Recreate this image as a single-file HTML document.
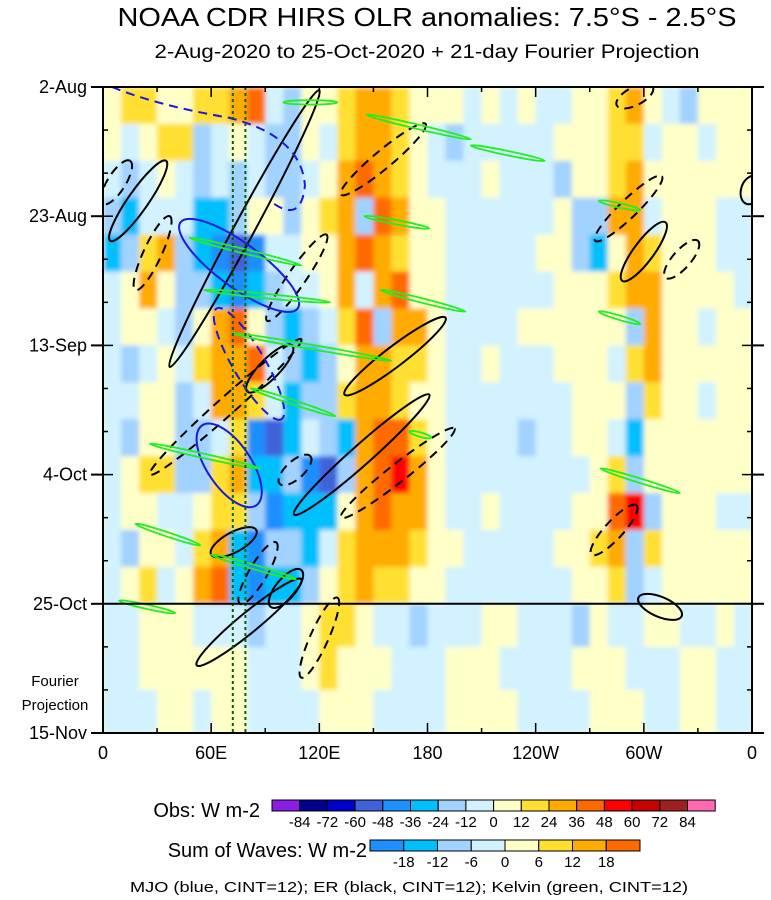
<!DOCTYPE html>
<html><head><meta charset="utf-8">
<style>
body{margin:0;background:#fff;}
svg{display:block;font-family:"Liberation Sans",sans-serif;}
</style></head>
<body>
<svg id="chart" width="771" height="900" viewBox="0 0 771 900">
<defs>
<clipPath id="pc"><rect x="103" y="87" width="649" height="646"/></clipPath>
<filter id="bl" filterUnits="userSpaceOnUse" x="90" y="75" width="680" height="670"><feGaussianBlur stdDeviation="2.5"/></filter>
</defs>
<text x="427" y="26" text-anchor="middle" font-size="26" textLength="619" lengthAdjust="spacingAndGlyphs">NOAA CDR HIRS OLR anomalies: 7.5°S - 2.5°S</text>
<text x="427" y="58" text-anchor="middle" font-size="19" textLength="545" lengthAdjust="spacingAndGlyphs">2-Aug-2020 to 25-Oct-2020 + 21-day Fourier Projection</text>
<g id="heat" clip-path="url(#pc)"></g>
<g id="waves" clip-path="url(#pc)"></g>
<g id="axes"></g>
<g id="legend"></g>
<text x="409" y="892" text-anchor="middle" font-size="15" textLength="558" lengthAdjust="spacingAndGlyphs">MJO (blue, CINT=12); ER (black, CINT=12); Kelvin (green, CINT=12)</text>
<text x="55" y="686" text-anchor="middle" font-size="15">Fourier</text>
<text x="55" y="710" text-anchor="middle" font-size="15">Projection</text>
</svg>
<script>
// ---------- data ----------
const obsRows = [
[5,15,20,5,10,15,20,25,40,-10,-20,5,10,20,30,25,15,10,5,5,-5,5,-5,5,-5,-5,5,10,20,25,10,-10,-15,5,5,5],
[10,-10,10,20,15,-15,-10,10,-10,-15,-20,5,-5,15,25,30,20,10,-10,-20,-10,-5,-5,-5,-5,10,10,5,15,20,-10,5,5,-5,5,5],
[-10,-20,-10,5,-5,-15,-10,-20,-10,-15,-15,-10,5,25,40,30,15,10,-5,-5,-5,5,-5,-5,-10,-20,5,5,20,30,10,5,5,5,10,5],
[-20,-30,-10,-5,-10,-30,-25,-20,5,10,-20,5,15,30,-20,40,25,10,5,-5,-5,-5,-5,-5,-10,5,-15,-20,25,30,-10,5,5,5,-5,-5],
[-30,-20,15,30,-20,-30,-40,-60,-40,-10,-10,5,10,35,40,30,20,5,5,-5,-5,-10,-5,-5,5,5,-20,-30,10,30,20,5,5,5,-5,-5],
[-10,5,30,5,-15,-20,-30,-40,-30,-20,-10,-10,5,30,-10,35,40,10,5,-5,-5,-5,-5,-5,-5,5,5,5,15,30,25,5,5,5,5,-5],
[-5,5,10,-5,-20,10,30,40,10,-20,-30,-20,-10,20,40,-20,30,30,5,-5,-5,-5,-5,5,5,5,5,5,10,-20,30,5,5,-5,5,5],
[-10,-20,-5,5,-10,20,30,30,40,-10,-20,-30,-20,10,30,30,20,15,5,-5,-5,5,-5,-5,-5,5,5,5,-10,20,30,5,5,5,5,5],
[-10,-10,5,10,-20,-10,30,30,20,-10,-30,-20,-20,15,35,30,20,10,5,-5,-5,-5,-5,-5,-5,-5,5,5,10,-20,20,5,5,-5,5,5],
[-10,-20,5,10,-20,-20,-10,20,-40,-60,-30,-10,-20,-30,30,40,40,20,5,-5,-5,-5,-5,-20,-10,-5,5,5,-10,-30,10,5,5,5,5,5],
[-5,5,20,15,-20,-20,15,30,-30,-30,-20,-40,-60,-20,30,45,50,30,10,-5,-5,-5,-10,-5,-5,-5,-5,5,20,-20,10,5,5,5,5,5],
[-10,5,10,-10,-5,10,20,20,-20,-40,-30,-30,-30,10,30,40,30,25,5,-5,-5,5,-5,-5,-5,-5,5,10,40,50,-20,5,5,5,-5,-5],
[-5,-20,10,5,-10,20,30,-30,-40,-20,-20,-30,-10,20,30,30,25,15,5,5,-5,-5,-5,-5,-5,5,5,20,25,-20,20,5,5,5,5,5],
[-10,5,15,-10,5,30,40,-30,-40,-30,-30,-20,10,20,30,20,20,10,5,-5,-10,-5,-5,-5,-5,-5,5,10,20,-20,-10,5,5,5,5,5]
];
const projRows = [
[-5,-5,5,5,5,-5,-5,-5,-8,-5,-5,5,10,10,5,-5,-5,-8,-5,-5,-5,5,5,-5,-5,-5,-8,5,-5,-5,5,5,-5,-5,5,-5],
[-5,-5,5,5,5,5,5,5,-5,-5,-5,5,10,5,5,5,-5,-5,-5,5,5,5,-5,-5,-5,-5,5,5,5,-5,-5,-5,5,5,-5,-5],
[-5,-5,-5,5,5,-5,5,5,-5,-5,-5,-5,5,5,5,-5,-5,-5,-5,5,5,5,5,-5,-5,-5,-5,5,5,5,-5,-5,5,5,-5,-5]
];
const obsLevels = [-84,-72,-60,-48,-36,-24,-12,0,12,24,36,48,60,72,84];
const obsColors = ["#8a1ee8","#00008f","#0000cd","#3f62d9","#1e8fff","#00bfff","#a2d2ff","#d2f2ff","#ffffc8","#ffe030","#ffab00","#ff6a00","#ff0000","#c80000","#a02020","#ff69b4"];
const waveLevels = [-18,-12,-6,0,6,12,18];
const waveColors = ["#1e8fff","#00bfff","#a2d2ff","#d2f2ff","#ffffc8","#ffe030","#ffab00","#ff6a00"];
const dateLabels = ["2-Aug","23-Aug","13-Sep","4-Oct","25-Oct","15-Nov"];
const dateDays = [0,21,42,63,84,105];
const lonLabels = ["0","60E","120E","180","120W","60W","0"];
const lonTicks = [0,60,120,180,240,300,360];
// wave contours: [lon1, day1, lon2, day2]
const erSolid = [[4,25,35,12],[37,45.5,120,0.5],[134,50,190,37.5],[106,69.5,181,50],[80,49.5,105,42],[60,76,85,72],[93,84.5,110,78.5],[52,94,110,80],[288,31.5,312,22],[321,86,297,83],[357,19,362,14.5]];
const erDashed = [[18,33,37,21],[91,38,124,24],[132,17.5,179,6],[26,63,110,41],[98,64.5,115,60],[132,70,195,55.5],[76,84,96,74],[110,96,130,83],[273,25,310,14.5],[312,31,330,25],[271,76,296,68],[285,3,305,0],[0,19,15,12]];
const mjoSolid = [[43,22,108,36],[55,55,85,68]];
const mjoDashed = [[63,36,99,54]];
// kelvin: [lon1, day1, lon2, day2]
const kelvin = [[146,4.5,204,8.5],[204,9.5,245,12],[100,2.5,130,2.5],[48,24.5,110,29],[56,33,126,35],[71,40,160,44.5],[82,49,129,53.5],[26,58,87,62],[154,33,201,36.5],[145,21,181,23],[275,18.5,298,20],[275,36.5,298,38.5],[276,62,320,66],[18,71,54,74.5],[60,76,107,80],[9,83.5,40,85.5],[170,56,182,57]];
const verticals = [72,79];

// ---------- helpers ----------
const NS="http://www.w3.org/2000/svg";
const X0=103,X1=752,Y0=87,Y1=733;
const xS = lon => X0 + lon*(X1-X0)/360;
const yS = day => Y0 + day*(Y1-Y0)/105;
function mk(tag, attrs, parent){const e=document.createElementNS(NS,tag);for(const k in attrs)e.setAttribute(k,attrs[k]);parent.appendChild(e);return e;}
function colorFor(v, levels, colors){let i=0;while(i<levels.length && v>=levels[i])i++;return colors[i];}

// ---------- heatmap ----------
const heat=document.getElementById('heat');
const hb=mk('g',{filter:'url(#bl)'},heat);
mk('rect',{x:X0-10,y:Y0-10,width:X1-X0+20,height:Y1-Y0+20,fill:'#ffffc8'},hb);
const dLon=360/obsRows[0].length;
obsRows.forEach((row,r)=>{row.forEach((v,c)=>{
  const e=mk('rect',{x:xS(c*dLon),y:yS(r*6),width:xS(dLon)-X0+0.6,height:yS(6)-Y0+0.6,fill:colorFor(v,obsLevels,obsColors)},hb);
  
  
});});
projRows.forEach((row,r)=>{row.forEach((v,c)=>{
  const e=mk('rect',{x:xS(c*dLon),y:yS(84+r*7),width:xS(dLon)-X0+0.6,height:yS(7)-Y0+0.6,fill:colorFor(v,waveLevels,waveColors)},hb);
  
  
});});

// ---------- contours ----------
const wv=document.getElementById('waves');
function ell(p,stroke,dash,w,name){
  const x1=xS(p[0]),y1=yS(p[1]),x2=xS(p[2]),y2=yS(p[3]);
  const cx=(x1+x2)/2,cy=(y1+y2)/2,len=Math.hypot(x2-x1,y2-y1)/2;
  const ang=Math.atan2(y2-y1,x2-x1)*180/Math.PI;
  const e=mk('ellipse',{cx:cx,cy:cy,rx:len,ry:w,transform:`rotate(${ang} ${cx} ${cy})`,fill:'none',stroke:stroke,'stroke-width':2,'stroke-dasharray':dash},wv);
  
  
}
erSolid.forEach(p=>ell(p,'#000','none',10,'er-contour-positive'));
erDashed.forEach(p=>ell(p,'#000','9,6',9,'er-contour-negative'));
mjoSolid.forEach(p=>ell(p,'#1a1adc','none',22,'mjo-contour-positive'));
mjoDashed.forEach(p=>ell(p,'#1a1adc','9,6',16,'mjo-contour-negative'));
const mjoArc=mk('path',{d:`M${xS(5)},${yS(0)} Q${xS(30)},${yS(3)} ${xS(70)},${yS(5)} Q${xS(110)},${yS(8)} ${xS(112)},${yS(16)} Q${xS(110)},${yS(22)} ${xS(95)},${yS(19)}`,fill:'none',stroke:'#1a1adc','stroke-width':2,'stroke-dasharray':'9,6'},wv);


kelvin.forEach(p=>{
  const cx=(xS(p[0])+xS(p[2]))/2,cy=(yS(p[1])+yS(p[3]))/2;
  const len=Math.hypot(xS(p[2])-xS(p[0]),yS(p[3])-yS(p[1]))/2;
  const ang=Math.atan2(yS(p[3])-yS(p[1]),xS(p[2])-xS(p[0]))*180/Math.PI;
  const e=mk('ellipse',{cx:cx,cy:cy,rx:len,ry:2.2,transform:`rotate(${ang} ${cx} ${cy})`,fill:'none',stroke:'#22ee22','stroke-width':1.8},wv);
  
  
});
verticals.forEach(l=>{
  const e=mk('line',{x1:xS(l),y1:Y0,x2:xS(l),y2:Y1,stroke:'#006400','stroke-width':2,'stroke-dasharray':'3,3'},wv);
  
  
});

// ---------- axes ----------
const ax=document.getElementById('axes');
const fr=mk('rect',{x:X0,y:Y0,width:X1-X0,height:Y1-Y0,fill:'none',stroke:'#000','stroke-width':2},ax);


const pl=mk('line',{x1:X0,y1:yS(84),x2:X1,y2:yS(84),stroke:'#000','stroke-width':2},ax);


for(let d=0;d<=105;d+=7){
  const major=dateDays.includes(d);const L=major?10:5;
  mk('line',{x1:X0,y1:yS(d),x2:X0+L,y2:yS(d),stroke:'#000','stroke-width':1.5},ax);
  mk('line',{x1:X1,y1:yS(d),x2:X1-L,y2:yS(d),stroke:'#000','stroke-width':1.5},ax);
  if(major){mk('line',{x1:X0-12,y1:yS(d),x2:X0,y2:yS(d),stroke:'#000','stroke-width':2},ax);mk('line',{x1:X1,y1:yS(d),x2:X1+12,y2:yS(d),stroke:'#000','stroke-width':2},ax);}
}
dateLabels.forEach((t,i)=>{
  const e=mk('text',{x:87,y:yS(dateDays[i])+6,'text-anchor':'end','font-size':18},ax);e.textContent=t;
  
  
});
for(let l=0;l<=360;l+=30){
  const major=lonTicks.includes(l);
  mk('line',{x1:xS(l),y1:Y1,x2:xS(l),y2:Y1-(major?10:5),stroke:'#000','stroke-width':1.5},ax);
  mk('line',{x1:xS(l),y1:Y0,x2:xS(l),y2:Y0+(major?10:5),stroke:'#000','stroke-width':1.5},ax);
}
lonLabels.forEach((t,i)=>{
  const e=mk('text',{x:xS(lonTicks[i]),y:Y1+26,'text-anchor':'middle','font-size':18},ax);e.textContent=t;
  
  
});

// ---------- legends ----------
const lg=document.getElementById('legend');
function bar(x0,y0,w,h,colors,levels,title,tx,name){
  colors.forEach((c,i)=>{
    const e=mk('rect',{x:x0+i*w,y:y0,width:w,height:h,fill:c,stroke:'#000','stroke-width':1},lg);
    
    
  });
  levels.forEach((v,i)=>{
    const e=mk('text',{x:x0+(i+1)*w,y:y0+h+16,'text-anchor':'middle','font-size':15},lg);e.textContent=v;
    
    
  });
  const t=mk('text',{x:tx,y:y0+h+6,'text-anchor':'end','font-size':20},lg);t.textContent=title;
  
  
}
bar(272,800,27.7,11,obsColors,obsLevels,'Obs: W m-2',260,'obs-colorbar');
bar(370,840,33.75,11,waveColors,waveLevels,'Sum of Waves: W m-2',367,'waves-colorbar');
</script>
</body></html>
